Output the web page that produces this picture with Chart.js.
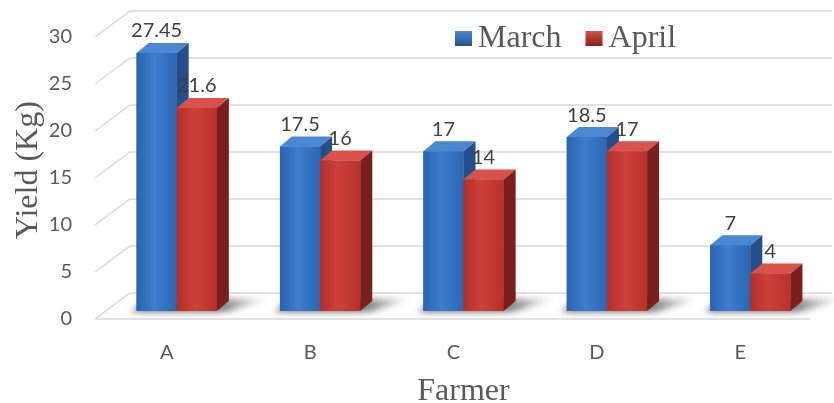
<!DOCTYPE html>
<html>
<head>
<meta charset="utf-8">
<script src="https://cdn.jsdelivr.net/npm/chart.js@4.4.1/dist/chart.umd.min.js"></script>
<style>
  html, body { margin: 0; padding: 0; background: #fff; }
</style>
</head>
<body>
<canvas id="yieldChart" width="834" height="403"></canvas>
<script>
const farmers = ['A', 'B', 'C', 'D', 'E'];
const march = [27.45, 17.5, 17, 18.5, 7];
const april = [21.6, 16, 14, 17, 4];
const yTicks = [0, 5, 10, 15, 20, 25, 30];

const DX = 12, DY = 10;          // depth of the boxes
const textGrey = '#595959';
const gridGrey = '#d9d9d9';

const looks = [
  { front: ['#2c64b0', '#3c7dcd', '#2d66b3'], top: '#4a88d4', side: '#254f8a', legend: '#2e6ab8' },
  { front: ['#b52f2b', '#cd403a', '#b8312c'], top: '#d9514b', side: '#7b1f1c', legend: '#c53a35' }
];

// back wall, left wall and floor lines, plus the soft shadow at the bar feet
const wall3d = {
  id: 'wall3d',
  beforeDatasetsDraw(chart) {
    const { ctx, chartArea: a, scales: { y } } = chart;
    ctx.save();
    ctx.strokeStyle = gridGrey;
    ctx.lineWidth = 1.5;
    yTicks.forEach(v => {
      const py = y.getPixelForValue(v);
      ctx.beginPath();
      ctx.moveTo(a.left - 10, py + 8);
      ctx.lineTo(a.left + 25, py - 18);
      ctx.lineTo(a.right + 10, py - 18);
      ctx.stroke();
    });
    const y0 = y.getPixelForValue(0);
    ctx.beginPath();
    ctx.moveTo(a.left - 10, y0 + 8);
    ctx.lineTo(a.right - 12, y0 + 8);
    ctx.stroke();

    // shadows
    const metas = chart.getSortedVisibleDatasetMetas();
    ctx.filter = 'blur(3px)';
    for (let i = 0; i < farmers.length; i++) {
      const first = metas[0].data[i], last = metas[metas.length - 1].data[i];
      const l = first.x - first.width / 2, r = last.x + last.width / 2;
      const g = ctx.createLinearGradient(r, 0, r + DX + 40, 0);
      g.addColorStop(0, 'rgba(0,0,0,0.55)');
      g.addColorStop(1, 'rgba(0,0,0,0)');
      ctx.fillStyle = g;
      ctx.beginPath();
      ctx.moveTo(l - 6, y0 + 1);
      ctx.lineTo(r + 10, y0 + 1);
      ctx.lineTo(r + DX + 40, y0 - DY - 2);
      ctx.lineTo(l + DX, y0 - DY - 2);
      ctx.closePath();
      ctx.fill();
    }
    ctx.restore();
  },
  afterDatasetsDraw(chart) {
    const { ctx } = chart;
    const metas = chart.getSortedVisibleDatasetMetas();
    ctx.save();
    for (let i = 0; i < farmers.length; i++) {
      metas.forEach((meta, di) => {
        const bar = meta.data[i];
        const { x, y: top, base, width } = bar.getProps(['x', 'y', 'base', 'width'], true);
        const l = x - width / 2, r = x + width / 2;
        const lk = looks[di];

        const g = ctx.createLinearGradient(l, 0, r, 0);
        g.addColorStop(0, lk.front[0]);
        g.addColorStop(0.45, lk.front[1]);
        g.addColorStop(1, lk.front[2]);
        ctx.fillStyle = g;
        ctx.fillRect(l, top, width, base - top);

        // top
        ctx.fillStyle = lk.top;
        ctx.beginPath();
        ctx.moveTo(l, top);
        ctx.lineTo(r, top);
        ctx.lineTo(r + DX, top - DY);
        ctx.lineTo(l + DX, top - DY);
        ctx.closePath();
        ctx.fill();

        // side
        ctx.fillStyle = lk.side;
        ctx.beginPath();
        ctx.moveTo(r, top);
        ctx.lineTo(r + DX, top - DY);
        ctx.lineTo(r + DX, base - DY);
        ctx.lineTo(r, base);
        ctx.closePath();
        ctx.fill();
      });
    }

    // value labels
    ctx.font = '20px Lato';
    ctx.fillStyle = '#404040';
    ctx.textAlign = 'center';
    ctx.textBaseline = 'bottom';
    metas.forEach(meta => {
      const vals = chart.data.datasets[meta.index].data;
      meta.data.forEach((bar, i) => {
        ctx.fillText(String(vals[i]), bar.x, bar.y - 12);
      });
    });
    ctx.restore();
  },
  afterDraw(chart) {
    const { ctx } = chart;
    ctx.save();
    ctx.font = '32px "Liberation Serif"';
    ctx.textBaseline = 'middle';
    ctx.textAlign = 'left';
    let x = 455;
    const cy = 39;
    chart.data.datasets.forEach((ds, di) => {
      const lk = looks[di];
      const g = ctx.createLinearGradient(0, cy - 8, 0, cy + 8);
      g.addColorStop(0, lk.top);
      g.addColorStop(1, lk.side);
      ctx.fillStyle = g;
      ctx.fillRect(x, cy - 8, 17, 15);
      ctx.fillStyle = textGrey;
      ctx.fillText(ds.label, x + 23, cy);
      x += 23 + ctx.measureText(ds.label).width + 24;
    });
    ctx.restore();
  }
};

new Chart(document.getElementById('yieldChart'), {
  type: 'bar',
  data: {
    labels: farmers,
    datasets: [
      { label: 'March', data: march, backgroundColor: looks[0].legend },
      { label: 'April', data: april, backgroundColor: looks[1].legend }
    ]
  },
  options: {
    responsive: false,
    animation: false,
    devicePixelRatio: 1,
    layout: { padding: { top: 29, right: 12, left: 0, bottom: 0 } },
    datasets: { bar: { categoryPercentage: 0.56, barPercentage: 1.0 } },
    plugins: { legend: { display: false }, tooltip: { enabled: false } },
    scales: {
      x: {
        grid: { display: false, drawTicks: false },
        border: { display: false },
        ticks: { font: { family: 'Lato', size: 20 }, color: textGrey, padding: 30, labelOffset: -10 },
        title: { display: true, text: 'Farmer', color: textGrey,
                 font: { family: 'Liberation Serif', size: 32, lineHeight: 0.7 }, padding: { top: 0, bottom: 0 } },
        afterFit: s => { s.height = 92; s.paddingLeft = 0; s.paddingRight = 0; }
      },
      y: {
        min: 0, max: 30,
        grid: { display: false, drawTicks: false },
        border: { display: false },
        ticks: { stepSize: 5, font: { family: 'Lato', size: 20 }, color: textGrey, padding: 33, labelOffset: 8 },
        title: { display: true, text: 'Yield (Kg)', color: textGrey,
                 font: { family: 'Liberation Serif', size: 32, lineHeight: 0.7 }, padding: { top: 17, bottom: 0 } },
        afterFit: s => { s.width = 105; s.paddingTop = 0; s.paddingBottom = 0; }
      }
    }
  },
  plugins: [wall3d]
});
</script>
</body>
</html>
